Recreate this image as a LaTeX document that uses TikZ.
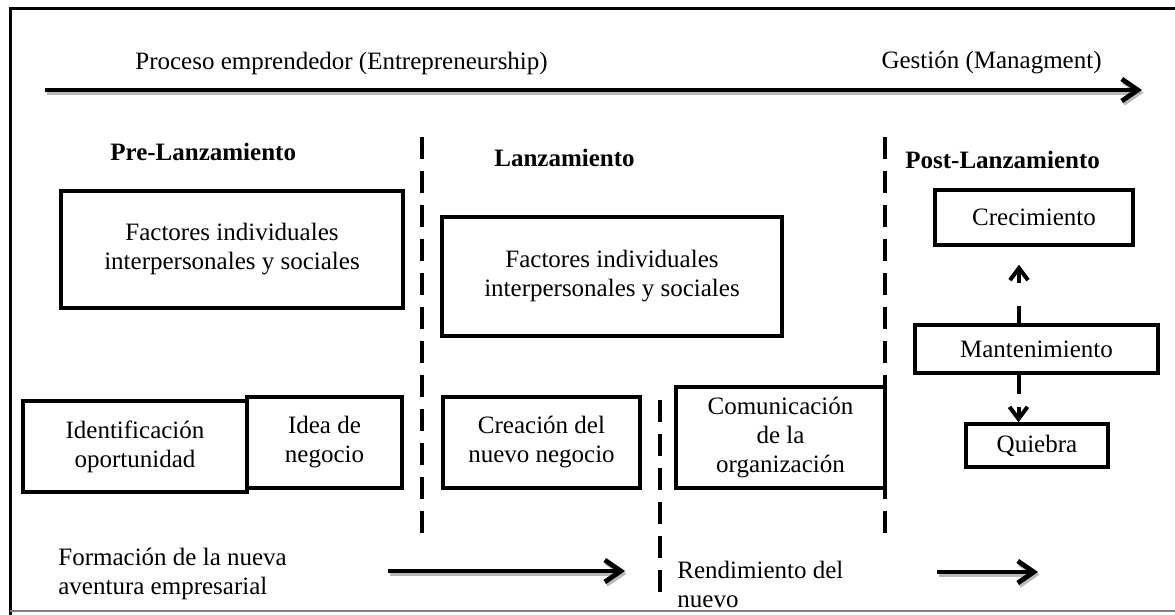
\documentclass[tikz,border=0pt]{standalone}
\usepackage{fontspec}
\setmainfont{Liberation Serif}
\usetikzlibrary{arrows.meta}

\tikzset{
  caja/.style={draw, line width=1.8pt, align=center},
  etapa/.style={font=\fontsize{12.5}{14.5}\selectfont\bfseries},
  separador/.style={line width=2pt, dash pattern=on 11pt off 6pt},
  punta/.style={-{Straight Barb[length=8pt,width=11pt]}},
  flecha/.style={line width=2.4pt, punta,
    preaction={draw, gray!55, line width=2.4pt, transform canvas={shift={(0.8pt,-1.3pt)}}}},
}

\begin{document}
\begin{tikzpicture}[x=0.5pt, y=-0.5pt, inner sep=0pt, font=\fontsize{12.5}{14.5}\selectfont]
    \useasboundingbox (0,0) rectangle (1175,615);
    % marco
    \draw[line width=1.5pt] (1175,9) -- (10,9) -- (10,615);
    \draw[gray, line width=0.6pt] (10,611) -- (1175,611);

    % eje superior
    \node[anchor=west] (proceso) at (135,63) {Proceso emprendedor (Entrepreneurship)};
    \node[anchor=east] (gestion) at (1102,63) {Gestión (Managment)};
    \coordinate (ejeA) at (45,90);
    \coordinate (ejeB) at (1142,90);
    \draw[flecha] (ejeA) -- (ejeB);

    % etapas
    \node[etapa, anchor=west] (pre) at (110,152) {Pre-Lanzamiento};
    \node[etapa, anchor=west] (lanz) at (494,158) {Lanzamiento};
    \node[etapa, anchor=west] (post) at (905,160) {Post-Lanzamiento};
    \draw[separador] (422,137) -- (422,537);
    \draw[separador] (885,137) -- (885,537);
    \draw[separador] (660,400) -- (660,600);

    % cajas
    \node[caja, minimum width=171pt, minimum height=58.5pt] (fac1) at (232,249.5) {Factores individuales\\interpersonales y sociales};
    \node[caja, minimum width=170pt, minimum height=59.5pt] (fac2) at (612,276.5) {Factores individuales\\interpersonales y sociales};
    \node[caja, line width=2.2pt, minimum width=112pt, minimum height=45.5pt] (ident) at (135,446.5) {Identificación\\oportunidad};
    \node[caja, minimum width=77.5pt, minimum height=45.5pt] (idea) at (324.5,442.5) {Idea de\\negocio};
    \node[caja, minimum width=98.5pt, minimum height=45.5pt] (crea) at (541.5,442.5) {Creación del\\nuevo negocio};
    \node[caja, minimum width=104.5pt, minimum height=50.5pt] (comu) at (780.5,437.5) {Comunicación\\de la\\organización};
    \node[caja, minimum width=99pt, minimum height=27.5pt] (crec) at (1034,217.5) {Crecimiento};
    \node[caja, minimum width=121.5pt, minimum height=24pt] (mant) at (1036.5,349) {Mantenimiento};
    \node[caja, minimum width=71pt, minimum height=21.5pt] (quie) at (1037,445.5) {Quiebra};

    \coordinate (subeA) at ([xshift=-8.75pt]mant.north);
    \coordinate (subeB) at (subeA |- crec.south);
    \coordinate (bajaA) at ([xshift=-9pt]mant.south);
    \coordinate (bajaB) at (bajaA |- quie.north);
    \draw[line width=2pt, -{Straight Barb[length=6pt,width=9pt]}, dash pattern=on 8.5pt off 11.5pt, shorten >=9pt] (subeA) -- (subeB);
    \draw[line width=2pt, -{Straight Barb[length=6pt,width=9pt]}, dash pattern=on 9.5pt off 6.5pt] (bajaA) -- (bajaB);

    % parte inferior
    \node[anchor=west, align=left] (formacion) at (58,574) {Formación de la nueva\\aventura empresarial};
    \node[anchor=west, align=left] (rendim) at (677,584) {Rendimiento del\\nuevo};
    \coordinate (formA) at (388,571);
    \coordinate (formB) at (625,571);
    \coordinate (rendA) at (937,572);
    \coordinate (rendB) at (1038,572);
    \draw[flecha] (formA) -- (formB);
    \draw[flecha] (rendA) -- (rendB);
\end{tikzpicture}
\end{document}
